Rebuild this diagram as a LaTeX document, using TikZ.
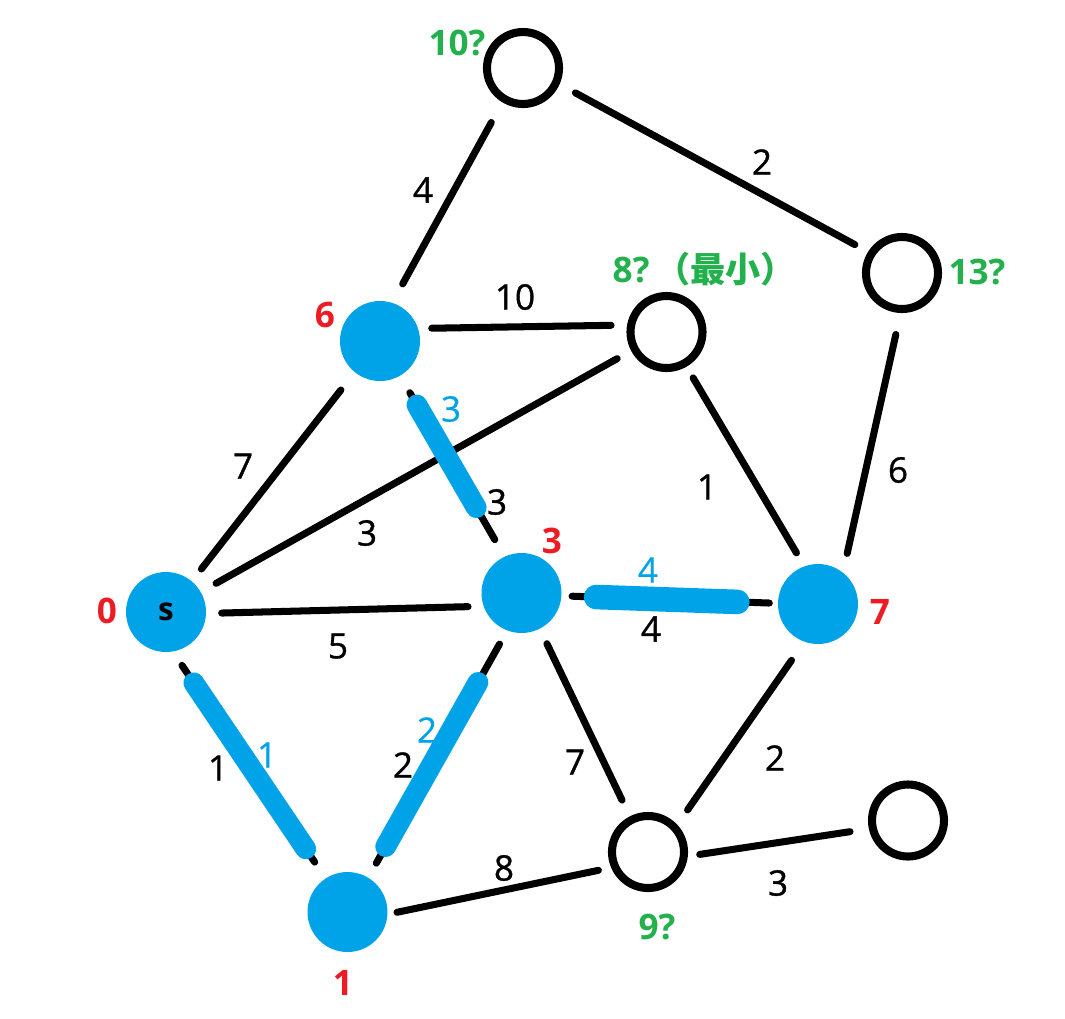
\documentclass[tikz,border=0pt]{standalone}
\usepackage{fontspec}
\setmainfont{Open Sans}
\newfontfamily\cjk{Noto Sans CJK SC}
\definecolor{pblue}{RGB}{0,162,232}
\definecolor{pred}{RGB}{237,28,36}
\definecolor{pgreen}{RGB}{34,177,76}
\tikzset{
  fnode/.style={circle,fill=pblue,minimum size=8mm},
  onode/.style={circle,draw,line width=2.3pt,minimum size=7.2mm},
  edge/.style={line width=2pt},
  gaps/.style 2 args={shorten <=#1mm,shorten >=#2mm},
  hl/.style={line width=5.9pt,pblue},
  wt/.style={font=\fontsize{10}{12}\selectfont\addfontfeature{FakeBold=0.9}},
  hw/.style={font=\fontsize{10}{12}\selectfont\addfontfeature{FakeBold=0.4},text=pblue},
  dist/.style={font=\fontsize{10}{12}\selectfont\bfseries,text=pred},
  guess/.style={font=\fontsize{10}{12}\selectfont\bfseries,text=pgreen}
}

\begin{document}
\begin{tikzpicture}[line cap=round,line join=round,every node/.style={inner sep=0pt}]
  \useasboundingbox (0,0) rectangle (10.65,-10.18);
  % 已确定的顶点（蓝色实心）
  \node[fnode,font=\fontsize{9}{11}\selectfont\bfseries] (s) at (1.66,-6.12) {s};
  \node[fnode] (d6) at (3.80,-3.41) {};
  \node[fnode] (d3) at (5.215,-5.93) {};
  \node[fnode] (d7) at (8.18,-6.04) {};
  \node[fnode] (d1) at (3.475,-9.12) {};
  % 未确定的顶点（空心）
  \node[onode] (q10) at (5.23,-0.68) {};
  \node[onode] (q13) at (9.02,-2.73) {};
  \node[onode] (q8) at (6.665,-3.32) {};
  \node[onode] (q9) at (6.48,-8.52) {};
  \node[onode] (far) at (9.08,-8.205) {};
  % 边
  \draw[edge,gaps={2.1}{2.3}] (d6.72) -- (q10.-121);
  \draw[edge,gaps={1.8}{1.5}] (q10.-24) -- (q13.148);
  \draw[edge,gaps={1.3}{1.6}] (d6.18) -- (q8.170);
  \draw[edge,gaps={1.7}{1.6}] (s.30) -- (q8.-152);
  \draw[edge,gaps={1.5}{2.2}] (s.50) -- (d6.-129);
  \draw[edge,gaps={1.9}{1.9}] (d6.-60) -- (d3.115);
  \draw[edge,gaps={1.5}{1.5}] (s.-2) -- (d3.-161);
  \draw[edge,gaps={1.0}{0.8}] (d3.-4) -- (d7.179);
  \draw[edge,gaps={1.3}{1.5}] (q8.-60) -- (d7.110);
  \draw[edge,gaps={2.2}{1.9}] (q13.-92) -- (d7.52);
  \draw[edge,gaps={1.6}{1.9}] (s.-80) -- (d1.123);
  \draw[edge,gaps={1.6}{1.5}] (d1.59) -- (d3.-111);
  \draw[edge,gaps={0.9}{1.3}] (d1.-3) -- (q9.-157);
  \draw[edge,gaps={1.6}{1.8}] (d3.-63) -- (q9.117);
  \draw[edge,gaps={2.2}{1.8}] (d7.-110) -- (q9.43);
  \draw[edge,gaps={1.2}{1.9}] (q9.-6) -- (far.-168);
  % 最短路径上的边（蓝色描粗）
  \draw[hl,gaps={3.3}{5.6}] (d6.-60) -- (d3.115);
  \draw[hl,line width=7pt,gaps={3.4}{4.0}] (d3.-4) -- (d7.179);
  \draw[hl,gaps={3.7}{3.5}] (s.-80) -- (d1.123);
  \draw[hl,gaps={3.5}{5.9}] (d1.59) -- (d3.-111);
  % 边权
  \node[wt] (w1) at (4.23,-1.90) {4};
  \node[wt] (w2) at (7.62,-1.62) {2};
  \node[wt] (w3) at (5.15,-2.97) {10};
  \node[wt] (w4) at (2.43,-4.66) {7};
  \node[wt] (w5) at (3.67,-5.33) {3};
  \node[wt] (w6) at (4.97,-5.02) {3};
  \node[wt] (w7) at (7.07,-4.87) {1};
  \node[wt] (w8) at (8.98,-4.70) {6};
  \node[wt] (w9) at (3.38,-6.46) {5};
  \node[wt] (w10) at (6.51,-6.29) {4};
  \node[wt] (w11) at (2.18,-7.68) {1};
  \node[wt] (w12) at (4.03,-7.65) {2};
  \node[wt] (w13) at (5.75,-7.62) {7};
  \node[wt] (w14) at (7.75,-7.58) {2};
  \node[wt] (w15) at (5.04,-8.68) {8};
  \node[wt] (w16) at (7.78,-8.83) {3};
  \node[hw] (h1) at (4.51,-4.09) {3};
  \node[hw] (h2) at (6.48,-5.70) {4};
  \node[hw] (h3) at (2.67,-7.55) {1};
  \node[hw] (h4) at (4.27,-7.30) {2};
  % 距离
  \node[dist] (r0) at (1.07,-6.11) {0};
  \node[dist] (r6) at (3.25,-3.15) {6};
  \node[dist] (r3) at (5.52,-5.41) {3};
  \node[dist] (r7) at (8.80,-6.12) {7};
  \node[dist] (r1) at (3.43,-9.83) {1};
  \node[guess] (g10) at (4.57,-0.43) {10?};
  \node[guess,anchor=base west] (g8) at (6.12,-2.82) {8?\,{\cjk\bfseries （最小）}};
  \node[guess] (g13) at (9.77,-2.72) {13?};
  \node[guess] (g9) at (6.57,-9.27) {9?};
\end{tikzpicture}
\end{document}
